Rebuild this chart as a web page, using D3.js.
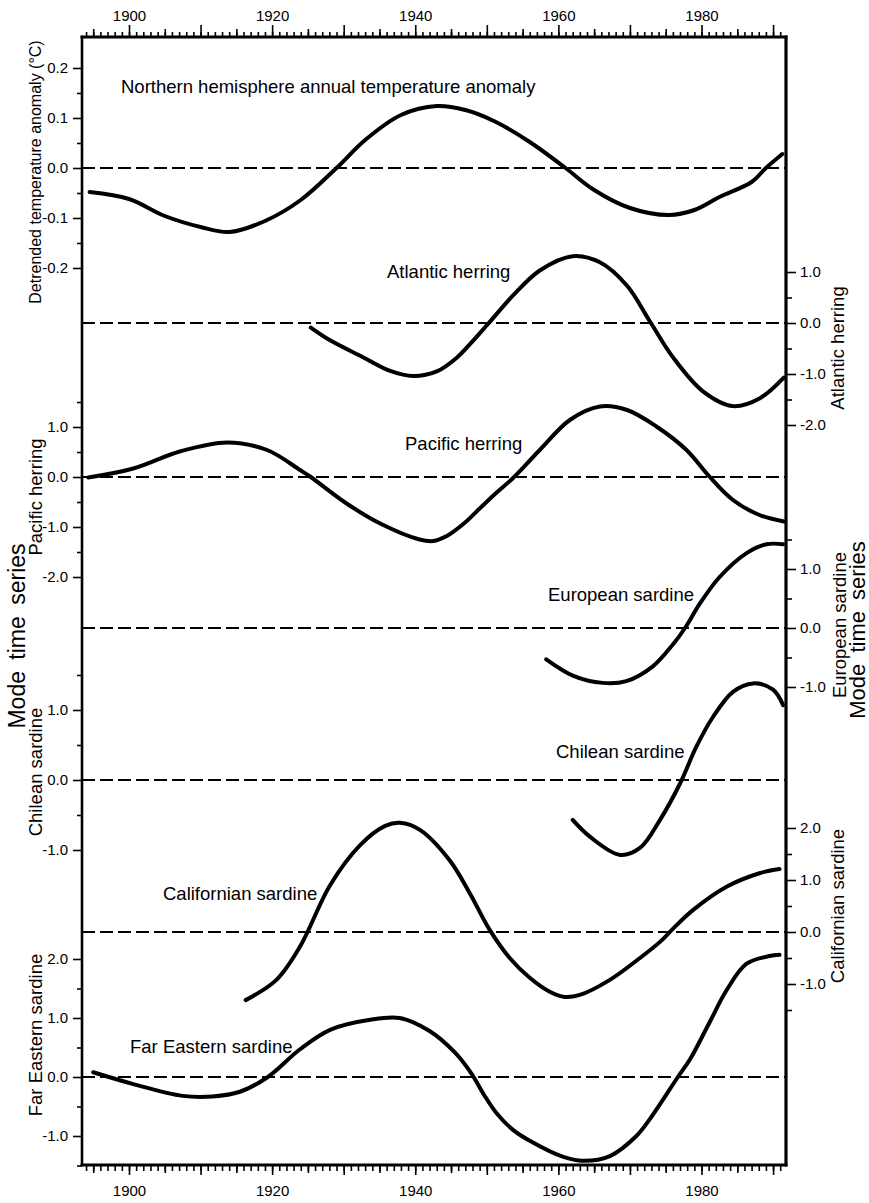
<!DOCTYPE html>
<html><head><meta charset="utf-8">
<script src="https://cdn.jsdelivr.net/npm/d3@7"></script>
<style>
body{margin:0;background:#fff}
svg{display:block}
text{font-family:"Liberation Sans",Arial,Helvetica,sans-serif;fill:#000}
</style>
</head><body>
<svg id="c" width="869" height="1203"></svg>
<script>
// ---------- data ----------
const tempYears  = [1894.5,1900,1905,1910,1914,1919,1924,1929,1933,1938,1943,1947,1951,1956,1961,1965,1970,1975.5,1979,1982.5,1987,1989,1991.3];
const tempValues = [-0.048,-0.062,-0.096,-0.118,-0.128,-0.106,-0.064,0.0,0.056,0.106,0.124,0.116,0.094,0.052,0.0,-0.044,-0.08,-0.094,-0.084,-0.058,-0.028,0.0,0.028];

const atlYears  = [1925.4,1928.1,1932.7,1936.5,1939.7,1943.0,1945.8,1948.0,1950.1,1953.6,1957.4,1962.0,1965.8,1969.6,1972.8,1976.0,1980.2,1984.4,1988.1,1991.5];
const atlValues = [-0.09,-0.34,-0.67,-0.94,-1.04,-0.95,-0.68,-0.36,-0.03,0.53,1.03,1.31,1.19,0.73,0.03,-0.67,-1.34,-1.63,-1.48,-1.07];

const pacYears  = [1894.3,1900.6,1907.1,1913.7,1919.3,1923.9,1925.3,1930.4,1935.1,1940.6,1942.5,1944.4,1946.8,1949.0,1951.3,1953.6,1957.4,1961.6,1965.8,1969.6,1973.7,1977.9,1981.1,1984.4,1988.1,1991.5];
const pacValues = [-0.01,0.17,0.51,0.69,0.54,0.14,0.01,-0.53,-0.93,-1.25,-1.28,-1.18,-0.93,-0.63,-0.32,-0.03,0.54,1.14,1.41,1.34,1.01,0.54,0.01,-0.46,-0.76,-0.89];

const eurYears  = [1958.3,1962.1,1966.2,1969.5,1973.2,1976.0,1977.7,1979.7,1982.5,1986.3,1989.1,1991.4];
const eurValues = [-0.53,-0.81,-0.93,-0.90,-0.65,-0.28,0.0,0.40,0.86,1.27,1.42,1.42];

const chiYears  = [1962.0,1964.4,1968.6,1971.4,1974.2,1977.0,1979.3,1981.6,1984.4,1987.2,1990.0,1991.4];
const chiValues = [-0.57,-0.81,-1.07,-0.97,-0.57,-0.05,0.48,0.90,1.26,1.38,1.29,1.07];

const calYears  = [1916.3,1920.6,1923.9,1928.1,1932.3,1935.8,1937.9,1940.7,1944.8,1947.6,1950.4,1953.2,1956.0,1958.8,1960.9,1963.0,1967.2,1971.4,1974.2,1976.0,1978.8,1983.5,1988.1,1990.9];
const calValues = [-1.31,-0.92,-0.28,0.90,1.67,2.04,2.10,1.96,1.38,0.75,0.04,-0.5,-0.88,-1.15,-1.25,-1.21,-0.92,-0.5,-0.19,0.06,0.42,0.87,1.13,1.21];

const fesYears  = [1895.0,1900.6,1907.5,1911.7,1915.5,1919.4,1923.9,1928.1,1933.7,1937.8,1942.0,1945.5,1947.9,1949.6,1951.4,1953.7,1956.0,1960.6,1963.4,1967.2,1970.9,1972.8,1976.7,1978.4,1981.1,1983.5,1986.3,1989.5,1990.9];
const fesValues = [0.08,-0.12,-0.32,-0.33,-0.25,0.0,0.47,0.8,0.97,1.0,0.78,0.42,0.05,-0.3,-0.62,-0.9,-1.08,-1.35,-1.42,-1.34,-1.0,-0.71,0.0,0.3,0.92,1.47,1.92,2.05,2.07];

const yearMinorTicks = d3.range(1894, 1992);
const yearMidTicks   = d3.range(1895, 1990, 10);
const yearMajorTicks = d3.range(1900, 1991, 10);
const yearLabels     = [1900, 1920, 1940, 1960, 1980];

const tempMajor = [-0.2,-0.1,0,0.1,0.2], tempMinor = [-0.15,-0.05,0.05,0.15];
const atlMajor = [-2,-1,0,1], atlMinor = [-1.5,-0.5,0.5];
const pacMajor = [-2,-1,0,1], pacMinor = [-1.5,-0.5,0.5,1.5];
const eurMajor = [-1,0,1], eurMinor = [-0.5,0.5,1.5];
const chiMajor = [-1,0,1], chiMinor = [-0.5,0.5,1.5];
const calMajor = [-1,0,1,2], calMinor = [-1.5,-0.5,0.5,1.5];
const fesMajor = [-1,0,1,2], fesMinor = [-1.5,-0.5,0.5,1.5];

// ---------- layout ----------
const L = 82, R = 786, T = 37, B = 1165;
const svg = d3.select("#c");
svg.append("rect").attr("width",869).attr("height",1203).attr("fill","#fff");

const x = d3.scaleLinear().domain([1900,1980]).range([129,701.5]);

const yTemp = d3.scaleLinear().domain([0,0.1]).range([168,118]);
const yAtl  = d3.scaleLinear().domain([0,1]).range([323,272]);
const yPac  = d3.scaleLinear().domain([0,1]).range([477,427]);
const yEur  = d3.scaleLinear().domain([0,1]).range([628,569]);
const yChi  = d3.scaleLinear().domain([0,1]).range([780,710]);
const yCal  = d3.scaleLinear().domain([0,1]).range([932,880]);
const yFes  = d3.scaleLinear().domain([0,1]).range([1077,1018]);

const fmt = d => (Math.abs(d) < 1e-9 ? 0 : d).toFixed(1);

function styleAxis(g, fs){
  g.select(".domain").remove();
  g.selectAll(".tick line").attr("stroke","#000").attr("stroke-width",1.6);
  g.selectAll("text").attr("font-size",fs).attr("fill","#000").attr("font-family",'"Liberation Sans",Arial,sans-serif');
}

// year axes
[[yearMinorTicks,5],[yearMidTicks,8],[yearMajorTicks,12]].forEach(([tv,s],i)=>{
  const g = svg.append("g").attr("transform",`translate(0,${T})`)
    .call(d3.axisTop(x).tickValues(tv).tickSize(s).tickSizeOuter(0).tickPadding(4)
      .tickFormat(i===2 ? (d => yearLabels.includes(d) ? String(d) : "") : ""));
  styleAxis(g,15);
});
[[yearMinorTicks,6],[yearMidTicks,8],[yearMajorTicks,10]].forEach(([tv,s],i)=>{
  const g = svg.append("g").attr("transform",`translate(0,${B})`)
    .call(d3.axisBottom(x).tickValues(tv).tickSize(s).tickSizeOuter(0).tickPadding(10)
      .tickFormat(i===2 ? (d => yearLabels.includes(d) ? String(d) : "") : ""));
  styleAxis(g,15);
});

function leftAxis(scale, majors, minors){
  const g1 = svg.append("g").attr("transform",`translate(${L},0)`)
    .call(d3.axisLeft(scale).tickValues(majors).tickSize(9).tickPadding(5).tickFormat(fmt));
  styleAxis(g1,15);
  const g2 = svg.append("g").attr("transform",`translate(${L},0)`)
    .call(d3.axisLeft(scale).tickValues(minors).tickSize(5).tickFormat(""));
  styleAxis(g2,15);
}
function rightAxis(scale, majors, minors){
  const g1 = svg.append("g").attr("transform",`translate(${R},0)`)
    .call(d3.axisRight(scale).tickValues(majors).tickSize(10).tickPadding(4).tickFormat(fmt));
  styleAxis(g1,15);
  const g2 = svg.append("g").attr("transform",`translate(${R},0)`)
    .call(d3.axisRight(scale).tickValues(minors).tickSize(6).tickFormat(""));
  styleAxis(g2,15);
}
leftAxis(yTemp,tempMajor,tempMinor);
leftAxis(yPac,pacMajor,pacMinor);
leftAxis(yChi,chiMajor,chiMinor);
leftAxis(yFes,fesMajor,fesMinor);
rightAxis(yAtl,atlMajor,atlMinor);
rightAxis(yEur,eurMajor,eurMinor);
rightAxis(yCal,calMajor,calMinor);

// zero (dashed) lines
[yTemp,yAtl,yPac,yEur,yChi,yCal,yFes].forEach(s=>{
  svg.append("line").attr("x1",L).attr("x2",R).attr("y1",s(0)).attr("y2",s(0))
    .attr("stroke","#000").attr("stroke-width",1.8).attr("stroke-dasharray","13,5");
});

// frame
const frame = svg.append("g").attr("stroke","#000").attr("stroke-linecap","square");
frame.append("line").attr("x1",L).attr("x2",R).attr("y1",T).attr("y2",T).attr("stroke-width",3);
frame.append("line").attr("x1",L).attr("x2",R).attr("y1",B).attr("y2",B).attr("stroke-width",3);
frame.append("line").attr("x1",L).attr("x2",L).attr("y1",T).attr("y2",B).attr("stroke-width",2.6);
frame.append("line").attr("x1",R).attr("x2",R).attr("y1",T).attr("y2",B).attr("stroke-width",3.2);

// curves
const series = [
  [tempYears,tempValues,yTemp],[atlYears,atlValues,yAtl],[pacYears,pacValues,yPac],
  [eurYears,eurValues,yEur],[chiYears,chiValues,yChi],[calYears,calValues,yCal],[fesYears,fesValues,yFes]
];
series.forEach(([ys,vs,sc])=>{
  const line = d3.line().x(d=>x(d[0])).y(d=>sc(d[1])).curve(d3.curveCatmullRom.alpha(0.5));
  svg.append("path").attr("d",line(d3.zip(ys,vs))).attr("fill","none")
    .attr("stroke","#000").attr("stroke-width",4).attr("stroke-linecap","round").attr("stroke-linejoin","round");
});

// in-plot labels
const labels = [
  ["Northern hemisphere annual temperature anomaly",121,93],
  ["Atlantic herring",387,278],
  ["Pacific herring",405,450],
  ["European sardine",548,601],
  ["Chilean sardine",556,758],
  ["Californian sardine",163,900],
  ["Far Eastern sardine",130,1053]
];
labels.forEach(([t,lx,ly])=>{
  svg.append("text").attr("x",lx).attr("y",ly).attr("font-size",18.5).text(t);
});

// rotated axis titles
function vtitle(t,cx,cy,fs,ws){
  svg.append("text").attr("transform",`translate(${cx},${cy}) rotate(-90)`)
    .attr("text-anchor","middle").attr("dy","0.35em").attr("font-size",fs)
    .attr("word-spacing",ws||0).text(t);
}
vtitle("Detrended temperature anomaly (°C)",35,172,16);
vtitle("Pacific herring",36,497,18.5);
vtitle("Chilean sardine",36,772,18.5);
vtitle("Far Eastern sardine",36,1035,18.5);
vtitle("Mode time series",17,636,23,5);
vtitle("Atlantic herring",838,348,18.5);
vtitle("European sardine",840,625,18.5);
vtitle("Californian sardine",838,906,18.5);
vtitle("Mode time series",857,630,22,5);
</script>
</body></html>
